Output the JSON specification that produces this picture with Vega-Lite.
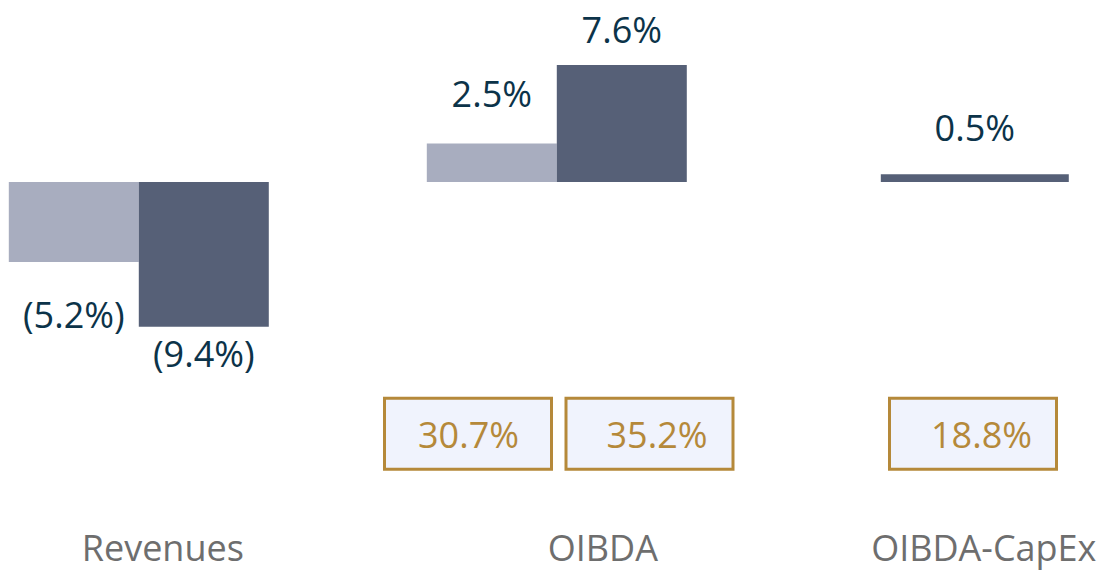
{
  "$schema": "https://vega.github.io/schema/vega-lite/v6.json",
  "width": 1107,
  "height": 520,
  "autosize": {"type": "none"},
  "padding": {"left": 0, "top": 0, "right": 0, "bottom": 52},
  "background": "white",
  "config": {"view": {"stroke": null}, "font": "Open Sans"},
  "data": {
    "values": [
      {"cat": "Revenues", "s": "light", "v": -5.2, "lab": "(5.2%)", "m": null, "mlab": null},
      {"cat": "Revenues", "s": "dark", "v": -9.4, "lab": "(9.4%)", "m": null, "mlab": null},
      {"cat": "OIBDA", "s": "light", "v": 2.5, "lab": "2.5%", "m": 30.7, "mlab": "30.7%"},
      {"cat": "OIBDA", "s": "dark", "v": 7.6, "lab": "7.6%", "m": 35.2, "mlab": "35.2%"},
      {"cat": "OIBDA-CapEx", "s": "dark", "v": 0.5, "lab": "0.5%", "m": 18.8, "mlab": "18.8%"}
    ]
  },
  "encoding": {
    "x": {
      "field": "cat",
      "type": "nominal",
      "sort": ["Revenues", "OIBDA", "OIBDA-CapEx"],
      "scale": {
        "domain": ["Revenues", "OIBDA", "OIBDA-CapEx"],
        "paddingInner": 0.378,
        "paddingOuter": 0.01316,
        "align": 0.8
      },
      "axis": {
        "title": null,
        "domain": false,
        "ticks": false,
        "tickSize": 0,
        "grid": false,
        "labelAngle": 0,
        "labelFont": "Open Sans",
        "labelFontSize": 36,
        "labelColor": "#6e6e6e",
        "labelPadding": 12,
        "labelLimit": 0,
        "labelOverlap": false,
        "labelOffset": {
          "condition": [
            {"test": "datum.value === 'Revenues'", "value": 24},
            {"test": "datum.value === 'OIBDA'", "value": 46}
          ],
          "value": 9
        }
      }
    }
  },
  "layer": [
    {
      "transform": [{"filter": "datum.cat !== 'OIBDA-CapEx'"}],
      "mark": {"type": "bar"},
      "encoding": {
        "xOffset": {
          "field": "s",
          "type": "nominal",
          "scale": {"domain": ["light", "dark"], "paddingInner": 0, "paddingOuter": 0}
        },
        "y": {
          "field": "v",
          "type": "quantitative",
          "scale": {"domain": [-21.948, 11.818], "nice": false, "zero": false},
          "axis": null
        },
        "color": {
          "field": "s",
          "type": "nominal",
          "scale": {"domain": ["light", "dark"], "range": ["#a8adbf", "#566077"]},
          "legend": null
        }
      }
    },
    {
      "transform": [{"filter": "datum.cat === 'OIBDA-CapEx'"}],
      "mark": {"type": "bar", "width": {"band": 0.723}, "color": "#566077"},
      "encoding": {
        "y": {"field": "v", "type": "quantitative"}
      }
    },
    {
      "mark": {
        "type": "text",
        "fontSize": 36,
        "font": "Open Sans",
        "color": "#0c3349",
        "baseline": "alphabetic",
        "align": "center",
        "xOffset": {"expr": "datum.cat === 'OIBDA-CapEx' ? 0 : (datum.s === 'light' ? -65 : 65)"},
        "dy": {"expr": "datum.cat === 'OIBDA-CapEx' ? -33 : (datum.s === 'light' ? (datum.v > 0 ? -36 : 66) : (datum.v > 0 ? -22 : 40))"}
      },
      "encoding": {
        "y": {"field": "v", "type": "quantitative"},
        "text": {"field": "lab", "type": "nominal"}
      }
    },
    {
      "transform": [{"filter": "datum.m != null"}],
      "mark": {
        "type": "bar",
        "width": 167,
        "fill": "#f0f3fd",
        "stroke": "#b5893a",
        "strokeWidth": 3,
        "xOffset": {"expr": "datum.s === 'light' ? -88.8 : (datum.cat === 'OIBDA' ? 92.7 : -1.8)"}
      },
      "encoding": {
        "y": {"datum": -14.05, "type": "quantitative"},
        "y2": {"datum": -18.65}
      }
    },
    {
      "transform": [{"filter": "datum.m != null"}],
      "mark": {
        "type": "text",
        "fontSize": 36,
        "font": "Open Sans",
        "color": "#b5893a",
        "baseline": "alphabetic",
        "align": "center",
        "xOffset": {"expr": "datum.s === 'light' ? -88.3 : (datum.cat === 'OIBDA' ? 100.2 : 6.7)"}
      },
      "encoding": {
        "y": {"datum": -17.3, "type": "quantitative"},
        "text": {"field": "mlab", "type": "nominal"}
      }
    }
  ]
}
